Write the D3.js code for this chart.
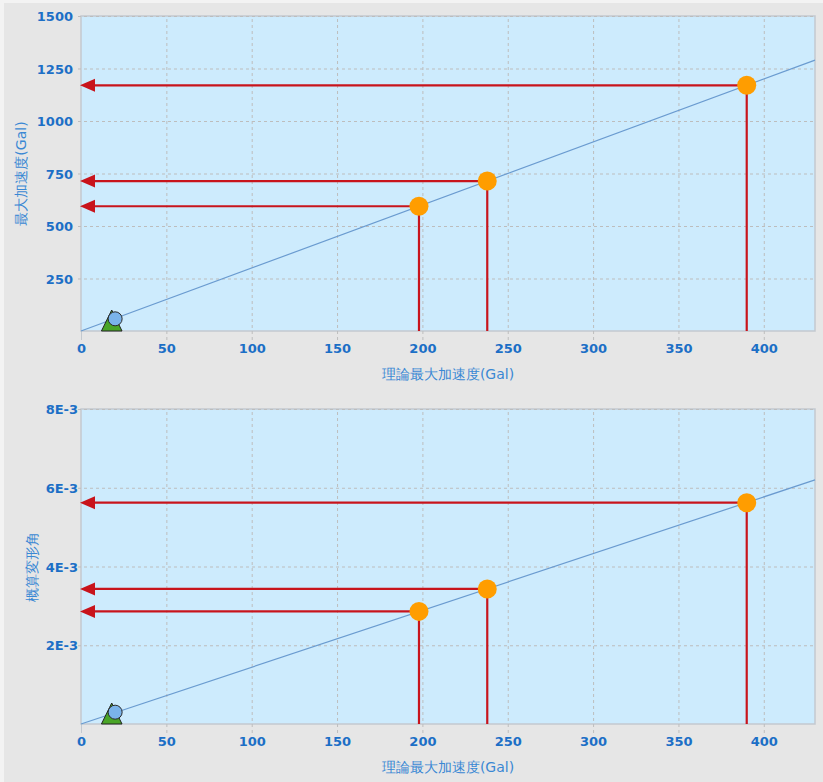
<!DOCTYPE html>
<html>
<head>
<meta charset="utf-8">
<script src="https://cdn.jsdelivr.net/npm/d3@7"></script>
<style>
  html, body { margin: 0; padding: 0; background: #f3f3f3; }
  svg { display: block; }
</style>
</head>
<body>
<svg id="chart" width="823" height="782"></svg>
<script>
// Theoretical peak acceleration (Gal) for the three design cases
const theoryAcc = [198, 238, 390];
// Peak response acceleration (Gal)
const peakAcc = [594, 714, 1170];
// Estimated drift angle
const driftAngle = [0.00286, 0.00343, 0.00562];

// Observed record (blue marker) and reference marker (green triangle)
const obsX = [20];
const obsAcc = [58];
const obsDrift = [0.0003];
const refX = [18];
const refY = [0];

// Fitted proportional line end points
const fitX = [0, 430];
const fitAcc = [0, 1290];
const fitDrift = [0, 0.0062];

// Axis ticks
const xTicks = [0, 50, 100, 150, 200, 250, 300, 350, 400];
const accTicks = [250, 500, 750, 1000, 1250, 1500];
const driftTicks = [0.002, 0.004, 0.006, 0.008];
const driftTickLabels = ["2E-3", "4E-3", "6E-3", "8E-3"];

const xTitle = "理論最大加速度(Gal)";
const accTitle = "最大加速度(Gal)";
const driftTitle = "概算変形角";

const svg = d3.select("#chart");
svg.append("rect").attr("x", 4).attr("y", 3).attr("width", 819).attr("height", 779).attr("fill", "#e6e6e6");

const tickColor = "#1c6fc6";
const titleColor = "#3a88d4";
const red = "#c8141c";

function drawPanel(opt) {
  const { top, bottom, left, right, yDomain, yTicks, yFormat, yVals, obsY, fitY, yTitle, yLabelX, yTitleX } = opt;
  const x = d3.scaleLinear().domain([0, 430]).range([left, right]);
  const y = d3.scaleLinear().domain(yDomain).range([bottom, top]);
  const g = svg.append("g");

  g.append("rect").attr("x", left).attr("y", top)
    .attr("width", right - left).attr("height", bottom - top)
    .attr("fill", "#cdebfd").attr("stroke", "#c3c9cf").attr("stroke-width", 1.5);

  // vertical grid + x axis
  const xAxis = g.append("g").attr("transform", `translate(0,${bottom})`)
    .call(d3.axisBottom(x).tickValues(xTicks).tickSizeOuter(0).tickFormat(d3.format("d")));
  xAxis.select(".domain").remove();
  xAxis.selectAll(".tick line")
    .attr("y1", 9).attr("y2", -(bottom - top))
    .attr("stroke", "#bdbdbd").attr("stroke-dasharray", "3,3")
    .filter(d => d === 0).attr("y2", 0).attr("stroke-dasharray", null).attr("stroke", "#c3c9cf");
  xAxis.selectAll(".tick text")
    .attr("y", 22).attr("dy", null)
    .attr("fill", tickColor).attr("font-family", "DejaVu Sans, Verdana, sans-serif")
    .attr("font-size", 13).attr("font-weight", "bold");

  // horizontal grid + y axis
  const yAxis = g.append("g").attr("transform", `translate(${left},0)`)
    .call(d3.axisLeft(y).tickValues(yTicks).tickSizeOuter(0).tickFormat(yFormat));
  yAxis.select(".domain").remove();
  yAxis.selectAll(".tick line")
    .attr("x1", -3).attr("x2", right - left)
    .attr("stroke", "#bdbdbd").attr("stroke-dasharray", "3,3");
  yAxis.selectAll(".tick text")
    .attr("x", yLabelX - left).attr("dy", "0.36em")
    .attr("fill", tickColor).attr("font-family", "DejaVu Sans, Verdana, sans-serif")
    .attr("font-size", 13).attr("font-weight", "bold");

  // axis titles
  g.append("text").attr("x", (left + right) / 2).attr("y", bottom + 48)
    .attr("text-anchor", "middle").attr("fill", titleColor)
    .attr("font-family", "DejaVu Sans, Verdana, sans-serif").attr("font-size", 14)
    .text(xTitle);
  g.append("text")
    .attr("transform", `translate(${yTitleX},${(top + bottom) / 2}) rotate(-90)`)
    .attr("text-anchor", "middle").attr("dy", "0.35em").attr("fill", titleColor)
    .attr("font-family", "DejaVu Sans, Verdana, sans-serif").attr("font-size", 14)
    .text(yTitle);

  // fitted line
  g.append("line")
    .attr("x1", x(fitX[0])).attr("y1", y(fitY[0]))
    .attr("x2", x(fitX[1])).attr("y2", y(fitY[1]))
    .attr("stroke", "#6a9bd0").attr("stroke-width", 1.2);

  // read-off lines: down to the x axis and across to the y axis
  theoryAcc.forEach((tx, i) => {
    const px = x(tx), py = y(yVals[i]);
    g.append("line").attr("x1", px).attr("y1", py).attr("x2", px).attr("y2", bottom)
      .attr("stroke", red).attr("stroke-width", 2.2);
    g.append("line").attr("x1", px).attr("y1", py).attr("x2", left + 12).attr("y2", py)
      .attr("stroke", red).attr("stroke-width", 2.2);
    const tip = left - 1;
    g.append("path")
      .attr("d", `M${tip},${py} L${tip + 15},${py - 6.5} L${tip + 15},${py + 6.5} Z`)
      .attr("fill", red);
  });

  // design points
  g.selectAll("circle.pt").data(theoryAcc).join("circle").attr("class", "pt")
    .attr("cx", d => x(d)).attr("cy", (d, i) => y(yVals[i])).attr("r", 9.5)
    .attr("fill", "#ff9d00");

  // reference triangle, base on the value
  refX.forEach((rx, i) => {
    const cx = x(rx), by = y(refY[i]);
    g.append("path")
      .attr("d", `M${cx},${by - 21} L${cx + 10.3},${by} L${cx - 10.3},${by} Z`)
      .attr("fill", "#49a527").attr("stroke", "#222").attr("stroke-width", 1);
  });

  // observed point
  g.selectAll("circle.obs").data(obsX).join("circle").attr("class", "obs")
    .attr("cx", d => x(d)).attr("cy", (d, i) => y(obsY[i])).attr("r", 7)
    .attr("fill", "#7ab3ea").attr("stroke", "#2a2a2a").attr("stroke-width", 1);
}

drawPanel({
  top: 16, bottom: 331, left: 81, right: 815,
  yDomain: [0, 1500], yTicks: accTicks, yFormat: d3.format("d"),
  yVals: peakAcc, obsY: obsAcc, fitY: fitAcc,
  yTitle: accTitle, yLabelX: 73, yTitleX: 21
});

drawPanel({
  top: 409, bottom: 724, left: 81, right: 815,
  yDomain: [0, 0.008], yTicks: driftTicks,
  yFormat: (d) => driftTickLabels[driftTicks.indexOf(d)],
  yVals: driftAngle, obsY: obsDrift, fitY: fitDrift,
  yTitle: driftTitle, yLabelX: 78, yTitleX: 32
});
</script>
</body>
</html>
